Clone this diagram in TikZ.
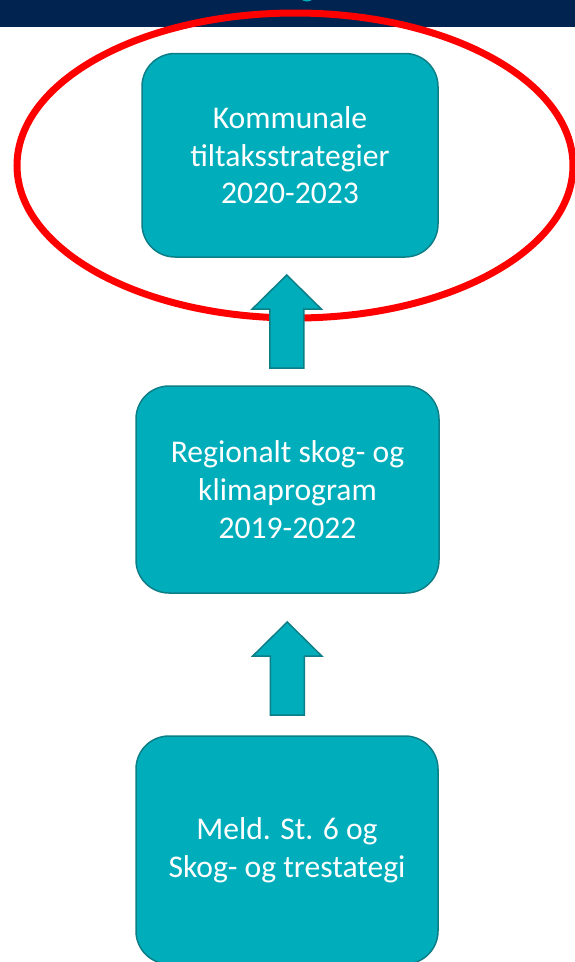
\documentclass[tikz,border=0pt]{standalone}
\usepackage{fontspec}
\setmainfont{Carlito}
\usetikzlibrary{calc}
\definecolor{navy}{HTML}{002350}
\definecolor{tealfill}{HTML}{00AEBB}
\definecolor{tealedge}{HTML}{0B7E88}
\definecolor{ringred}{HTML}{FF0000}
\tikzset{
  box/.style={rectangle, rounded corners=33pt, fill=tealfill, draw=tealedge, line width=1.5pt,
    text=white, align=center, font=\fontsize{31.6}{37.7}\selectfont, inner sep=0pt},
  blockarrow/.style={fill=tealfill, draw=tealedge, line width=1.5pt, line join=miter},
  ring/.style={draw=ringred, line width=7pt}
}
\begin{document}
\begin{tikzpicture}[x=1pt,y=-1pt]
\useasboundingbox (0,0) rectangle (575,962);
\fill[navy] (0,0) rectangle (575,27);
\fill[tealfill] (307,-7) circle[radius=8.5pt];
\node[box, minimum width=296pt, minimum height=203.5pt] (b1) at (290,155.25)
  {Kommunale\\tiltaksstrategier\\2020-2023};
\node[box, minimum width=303pt, minimum height=207pt] (b2) at (287.5,489.5)
  {Regionalt skog- og\\klimaprogram\\2019-2022};
\node[box, minimum width=302pt, minimum height=228pt] (b3) at (287,850)
  {Meld. St. 6 og\\Skog- og trestategi};
\draw[ring] (295,165.5) ellipse [x radius=278pt, y radius=152.5pt];
\coordinate (m1) at ($(b1.south)!0.5!(b2.north)$);
\coordinate (m2) at ($(b2.south)!0.5!(b3.north)$);
\coordinate (a1) at ([xshift=-2pt]m1);
\coordinate (a2) at ([xshift=0pt,yshift=-4pt]m2);
\draw[blockarrow] ($(a1)+(-17,46.5)$) -- ++(0,-59) -- ++(-17.5,0) -- ++(34.5,-34)
  -- ++(34.5,34) -- ++(-17.5,0) -- ++(0,59) -- cycle;
\draw[blockarrow] ($(a2)+(-17,46.5)$) -- ++(0,-59) -- ++(-17.5,0) -- ++(34.5,-34)
  -- ++(34.5,34) -- ++(-17.5,0) -- ++(0,59) -- cycle;
\end{tikzpicture}
\end{document}
